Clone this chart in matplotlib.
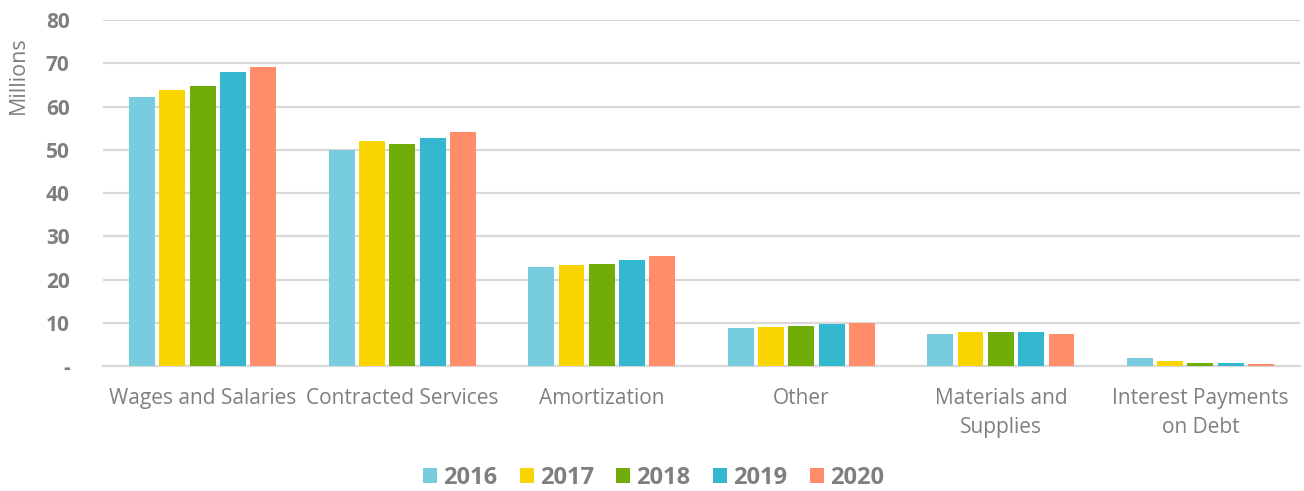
import matplotlib

matplotlib.use("Agg")
import matplotlib.pyplot as plt
import numpy as np
from matplotlib.ticker import FuncFormatter

categories = [
    "Wages and Salaries",
    "Contracted Services",
    "Amortization",
    "Other",
    "Materials and\nSupplies",
    "Interest Payments\non Debt",
]
years = ["2016", "2017", "2018", "2019", "2020"]
v2016 = [62.3, 49.9, 22.9, 8.8, 7.3, 1.8]
v2017 = [63.8, 52.0, 23.3, 9.0, 7.8, 1.2]
v2018 = [64.8, 51.4, 23.7, 9.2, 7.8, 0.8]
v2019 = [68.1, 52.7, 24.6, 9.7, 7.8, 0.75]
v2020 = [69.1, 54.1, 25.4, 10.0, 7.4, 0.55]
series = [v2016, v2017, v2018, v2019, v2020]
colors = ["#77cdde", "#fad400", "#70ad08", "#33b8cf", "#ff8d6a"]

text_gray = "#7f7f7f"
grid_gray = "#d9d9d9"

plt.rcParams["font.family"] = ["Open Sans", "DejaVu Sans"]

fig = plt.figure(figsize=(13.04, 4.91), dpi=100)
ax = fig.add_axes([0.079, 0.2546, 0.918, 0.7045])

x = np.arange(len(categories))
pitch = 0.152
width = 0.13
for i, (vals, col, yr) in enumerate(zip(series, colors, years)):
    ax.bar(x + (i - 2) * pitch, vals, width, color=col, label=yr, zorder=3)

ax.set_xlim(-0.5, len(categories) - 0.5)
ax.set_ylim(0, 80)
ax.set_yticks(range(0, 81, 10))
ax.yaxis.set_major_formatter(FuncFormatter(lambda v, _: "-" if v == 0 else f"{v:.0f}"))
ax.grid(axis="y", color=grid_gray, linewidth=1.6, zorder=0)
ax.set_axisbelow(True)
for side in ["top", "right", "left"]:
    ax.spines[side].set_visible(False)
ax.spines["bottom"].set_color(grid_gray)
ax.spines["bottom"].set_linewidth(1.6)

ax.set_xticks(x)
ax.set_xticklabels(categories, fontsize=15, color=text_gray, linespacing=1.5)
ax.tick_params(axis="x", length=0, pad=16)
ax.tick_params(axis="y", length=0, pad=24, labelsize=15, labelcolor=text_gray)
for lab in ax.get_yticklabels():
    lab.set_fontweight("bold")

ax.set_ylabel("Millions", fontsize=15.5, color=text_gray)
ax.yaxis.set_label_coords(-0.062, 0.84)

leg = fig.legend(
    loc="center",
    bbox_to_anchor=(0.501, 0.027),
    ncol=5,
    frameon=False,
    handlelength=0.6,
    handleheight=0.6,
    handletextpad=0.25,
    columnspacing=0.95,
    prop={"family": ["Open Sans", "DejaVu Sans"], "size": 17, "weight": "bold"},
)
for t in leg.get_texts():
    t.set_color(text_gray)

fig.savefig("out.png", dpi=100)
